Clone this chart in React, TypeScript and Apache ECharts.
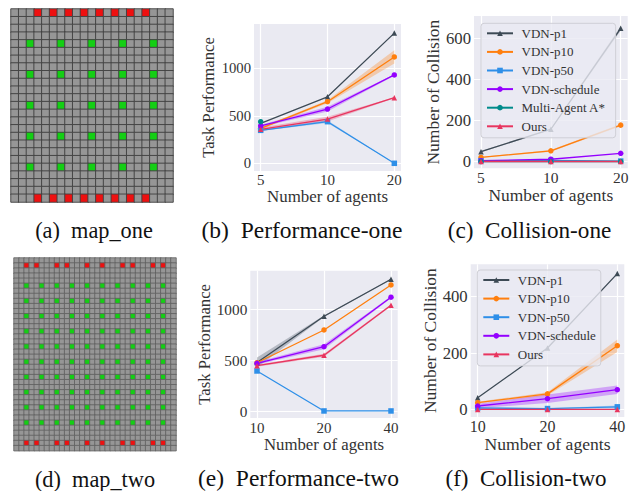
import React, { useEffect, useRef } from "react";
import * as echarts from "echarts";

const FONT = "Liberation Serif";
const BG = "#eaeaf2";
const TEXT = "#333333";

// x positions (equal spacing) and tick labels
const xPositions = [0, 1, 2];
const xLabelsOne = ["5", "10", "20"];
const xLabelsTwo = ["10", "20", "40"];

// Series colours
const colorP1 = "#3d4a55";
const colorP10 = "#ff7f0e";
const colorP50 = "#2e8fe8";
const colorSched = "#9400ff";
const colorAStar = "#008b8b";
const colorOurs = "#e8355f";

// Performance-one
const perfOneP1 = [420, 700, 1370];
const perfOneP10 = [368, 648, 1119];
const perfOneP50 = [347, 438, 0];
const perfOneSched = [393, 571, 930];
const perfOneAStar = [438, null, null];
const perfOneOurs = [358, 466, 690];
const perfOneP10Band = [12, 15, 70];
const perfOneSchedBand = [12, 25, 8];
const perfOneOursBand = [18, 25, 5];
const perfOneP50Band = [8, 14, 0];
const perfOneTicks = [0, 500, 1000];

// Collision-one
const collOneP1 = [49, 158, 649];
const collOneP10 = [21, 53, 178];
const collOneP50 = [5, 6, 3];
const collOneSched = [5, 12, 41];
const collOneAStar = [1, 1, 1];
const collOneOurs = [1, 1, 1];
const collOneP1Band = [3, 4, 10];
const collOneP10Band = [2, 4, 6];
const collOneTicks = [0, 200, 400, 600];

// Performance-two
const perfTwoP1 = [478, 931, 1294];
const perfTwoP10 = [476, 797, 1238];
const perfTwoP50 = [395, 3, 3];
const perfTwoSched = [470, 633, 1118];
const perfTwoOurs = [447, 549, 1039];
const perfTwoP1Band = [50, 8, 5];
const perfTwoSchedBand = [12, 24, 10];
const perfTwoOursBand = [10, 14, 10];
const perfTwoTicks = [0, 500, 1000];

// Collision-two
const collTwoP1 = [41, 218, 482];
const collTwoP10 = [24, 55, 226];
const collTwoP50 = [5, 3, 9];
const collTwoSched = [12, 38, 70];
const collTwoOurs = [0, 0, 0];
const collTwoP10Band = [3, 6, 22];
const collTwoSchedBand = [8, 15, 15];
const collTwoP50Band = [1, 1, 5];
const collTwoTicks = [0, 200, 400];

// Maps
const mapOneCols = 21;
const mapOneRows = 25;
const mapOneRedCols = [3, 5, 7, 9, 11, 13, 15, 17];
const mapOneRedRows = [0, 24];
const mapOneGreenCols = [2, 6, 10, 14, 18];
const mapOneGreenRows = [4, 8, 12, 16, 20];

const mapTwoCols = 32;
const mapTwoRows = 38;
const mapTwoRedCols = [2, 4, 8, 10, 14, 17, 21, 23, 27, 29];
const mapTwoRedRows = [1, 36];
const mapTwoGreenCols = [2, 5, 8, 11, 14, 17, 20, 23, 26, 29];
const mapTwoGreenRows = [5, 8, 11, 14, 17, 20, 23, 26, 29, 32];

const captions = [
  { text: "(a)  map_one", x: 94, y: 230, size: 22.3 },
  { text: "(b)  Performance-one", x: 302, y: 230, size: 23.5 },
  { text: "(c)  Collision-one", x: 529.5, y: 230, size: 23.2 },
  { text: "(d)  map_two", x: 95, y: 479, size: 22.3 },
  { text: "(e)  Performance-two", x: 298.5, y: 478, size: 23.5 },
  { text: "(f)  Collision-two", x: 526, y: 478, size: 23 },
];

const rangeOf = (n: number) => Array.from({ length: n }, (_, i) => i);

function mapCells(cols: number, rows: number, rc: number[], rr: number[], gc: number[], gr: number[]) {
  const out: number[][] = [];
  for (let r = 0; r < rows; r++) {
    for (let c = 0; c < cols; c++) {
      let v = 0;
      if (rr.includes(r) && rc.includes(c)) v = 2;
      if (gr.includes(r) && gc.includes(c)) v = 1;
      out.push([c, r, v]);
    }
  }
  return out;
}

function lineSeries(gi: number, name: string, vals: (number | null)[], color: string, symbol: string, size: number, width = 1.3) {
  return {
    type: "line",
    name,
    xAxisIndex: gi,
    yAxisIndex: gi,
    data: vals.map((v, i) => [xPositions[i], v]),
    symbol,
    symbolSize: size,
    showSymbol: true,
    showAllSymbol: true,
    connectNulls: false,
    lineStyle: { color, width },
    itemStyle: { color },
    z: 5,
    silent: true,
  };
}

function bandSeries(gi: number, vals: number[], half: number[], color: string, opacity = 0.3) {
  const lo = vals.map((v, i) => v - half[i]);
  const hi = vals.map((v, i) => v + half[i]);
  return {
    type: "custom",
    xAxisIndex: gi,
    yAxisIndex: gi,
    silent: true,
    z: 3,
    data: vals.map((_, i) => [xPositions[i], lo[i], hi[i]]),
    encode: { x: 0, y: [1, 2] },
    renderItem: (params: any, api: any) => {
      if (params.dataIndex !== 0) return null;
      const up = xPositions.map((x, i) => api.coord([x, hi[i]]));
      const dn = xPositions.map((x, i) => api.coord([x, lo[i]])).reverse();
      return { type: "polygon", shape: { points: [...up, ...dn] }, style: { fill: color, opacity } };
    },
  };
}

function buildOption() {
  const plots = [
    { left: 254, top: 24, width: 147, height: 147, min: -81, max: 1466, ticks: perfOneTicks, xl: xLabelsOne, yName: "Task Performance", yFont: 14.7, xFont: 15, xNameSize: 16.9, yNameSize: 16.7, gapX: 17, gapY: 37, xMargin: 1.5 },
    { left: 474, top: 16, width: 153.7, height: 152.3, min: -32, max: 709, ticks: collOneTicks, xl: xLabelsOne, yName: "Number of Collision", yFont: 16.7, xFont: 15.5, xNameSize: 17.4, yNameSize: 17.5, gapX: 17, gapY: 28, xMargin: 1 },
    { left: 250.3, top: 270.7, width: 147.4, height: 147.3, min: -66, max: 1378, ticks: perfTwoTicks, xl: xLabelsTwo, yName: "Task Performance", yFont: 15.3, xFont: 15, xNameSize: 16.8, yNameSize: 16.7, gapX: 16, gapY: 31, xMargin: 2 },
    { left: 470.7, top: 264.3, width: 153.6, height: 152.7, min: -27, max: 515, ticks: collTwoTicks, xl: xLabelsTwo, yName: "Number of Collision", yFont: 16.7, xFont: 16, xNameSize: 17.6, yNameSize: 17.5, gapX: 17, gapY: 29.5, xMargin: 1 },
  ];

  const grids: any[] = [
    { left: 11, top: 9, width: 162, height: 193 },
    { left: 14, top: 258, width: 162, height: 192.7 },
    ...plots.map((p) => ({ left: p.left, top: p.top, width: p.width, height: p.height, show: true, backgroundColor: BG, borderWidth: 0 })),
  ];

  const xAxes: any[] = [
    { gridIndex: 0, type: "category", data: rangeOf(mapOneCols), show: false },
    { gridIndex: 1, type: "category", data: rangeOf(mapTwoCols), show: false },
    ...plots.map((p, i) => ({
      gridIndex: i + 2,
      type: "value",
      min: -0.1,
      max: 2.1,
      name: "Number of agents",
      nameLocation: "middle",
      nameGap: p.gapX,
      nameTextStyle: { fontFamily: FONT, fontSize: p.xNameSize, color: TEXT },
      axisLine: { show: false },
      axisTick: { show: false, customValues: xPositions },
      axisLabel: {
        customValues: xPositions,
        fontFamily: FONT,
        fontSize: p.xFont,
        color: TEXT,
        margin: p.xMargin,
        formatter: (v: number) => p.xl[Math.round(v)],
      },
      splitLine: { show: true, lineStyle: { color: "#ffffff", width: 1.2 } },
    })),
  ];

  const yAxes: any[] = [
    { gridIndex: 0, type: "category", data: rangeOf(mapOneRows), inverse: true, show: false },
    { gridIndex: 1, type: "category", data: rangeOf(mapTwoRows), inverse: true, show: false },
    ...plots.map((p, i) => ({
      gridIndex: i + 2,
      type: "value",
      min: p.min,
      max: p.max,
      name: p.yName,
      nameLocation: "middle",
      nameGap: p.gapY,
      nameTextStyle: { fontFamily: FONT, fontSize: p.yNameSize, color: TEXT },
      axisLine: { show: false },
      axisTick: { show: false, customValues: p.ticks },
      axisLabel: { customValues: p.ticks, fontFamily: FONT, fontSize: p.yFont, color: TEXT, margin: 3, formatter: (v: number) => String(v) },
      splitLine: { show: true, lineStyle: { color: "#ffffff", width: 1.2 } },
    })),
  ];

  const series: any[] = [
    {
      type: "heatmap",
      xAxisIndex: 0,
      yAxisIndex: 0,
      silent: true,
      data: mapCells(mapOneCols, mapOneRows, mapOneRedCols, mapOneRedRows, mapOneGreenCols, mapOneGreenRows),
      itemStyle: { borderColor: "#3f3f3f", borderWidth: 0.9 },
    },
    {
      type: "heatmap",
      xAxisIndex: 1,
      yAxisIndex: 1,
      silent: true,
      data: mapCells(mapTwoCols, mapTwoRows, mapTwoRedCols, mapTwoRedRows, mapTwoGreenCols, mapTwoGreenRows),
      itemStyle: { borderColor: "#606060", borderWidth: 0.8 },
    },
    // Performance-one
    bandSeries(2, perfOneP10, perfOneP10Band, colorP10),
    bandSeries(2, perfOneSched, perfOneSchedBand, colorSched),
    bandSeries(2, perfOneOurs, perfOneOursBand, colorOurs),
    bandSeries(2, perfOneP50, perfOneP50Band, colorP50),
    lineSeries(2, "VDN-p1", perfOneP1, colorP1, "triangle", 5.5),
    lineSeries(2, "VDN-p10", perfOneP10, colorP10, "circle", 5.5),
    lineSeries(2, "VDN-p50", perfOneP50, colorP50, "rect", 5.5),
    lineSeries(2, "VDN-schedule", perfOneSched, colorSched, "circle", 5.5),
    lineSeries(2, "Multi-Agent A*", perfOneAStar, colorAStar, "circle", 5.5),
    lineSeries(2, "Ours", perfOneOurs, colorOurs, "triangle", 5.5),
    // Collision-one
    bandSeries(3, collOneP1, collOneP1Band, colorP1),
    bandSeries(3, collOneP10, collOneP10Band, colorP10),
    lineSeries(3, "VDN-p1", collOneP1, colorP1, "triangle", 5.5),
    lineSeries(3, "VDN-p10", collOneP10, colorP10, "circle", 5.5),
    lineSeries(3, "VDN-p50", collOneP50, colorP50, "rect", 5.5),
    lineSeries(3, "VDN-schedule", collOneSched, colorSched, "circle", 5.5),
    lineSeries(3, "Multi-Agent A*", collOneAStar, colorAStar, "circle", 5.5),
    lineSeries(3, "Ours", collOneOurs, colorOurs, "triangle", 5.5),
    // Performance-two
    bandSeries(4, perfTwoP1, perfTwoP1Band, colorP1),
    bandSeries(4, perfTwoSched, perfTwoSchedBand, colorSched),
    bandSeries(4, perfTwoOurs, perfTwoOursBand, colorOurs),
    lineSeries(4, "VDN-p1", perfTwoP1, colorP1, "triangle", 5.5),
    lineSeries(4, "VDN-p10", perfTwoP10, colorP10, "circle", 5.5),
    lineSeries(4, "VDN-p50", perfTwoP50, colorP50, "rect", 5.5),
    lineSeries(4, "VDN-schedule", perfTwoSched, colorSched, "circle", 5.5),
    lineSeries(4, "Ours", perfTwoOurs, colorOurs, "triangle", 5.5),
    // Collision-two
    bandSeries(5, collTwoP10, collTwoP10Band, colorP10),
    bandSeries(5, collTwoSched, collTwoSchedBand, colorSched),
    bandSeries(5, collTwoP50, collTwoP50Band, colorP50),
    lineSeries(5, "VDN-p1", collTwoP1, colorP1, "triangle", 5.5),
    lineSeries(5, "VDN-p10", collTwoP10, colorP10, "circle", 5.5),
    lineSeries(5, "VDN-p50", collTwoP50, colorP50, "rect", 5.5),
    lineSeries(5, "VDN-schedule", collTwoSched, colorSched, "circle", 5.5),
    lineSeries(5, "Ours", collTwoOurs, colorOurs, "triangle", 5.5),
  ];

  const legendBase = {
    orient: "vertical",
    itemWidth: 26,
    itemHeight: 7,
    itemGap: 5.6,
    align: "left",
    backgroundColor: "rgba(234,234,242,0.8)",
    borderColor: "#cfcfd6",
    borderWidth: 1,
    borderRadius: 3,
    selectedMode: false,
    textStyle: { fontFamily: FONT, fontSize: 13, color: TEXT, padding: [0, 0, 0, 3.5] },
    z: 10,
  };

  return {
    animation: false,
    backgroundColor: "#ffffff",
    grid: grids,
    xAxis: xAxes,
    yAxis: yAxes,
    visualMap: {
      type: "piecewise",
      show: false,
      seriesIndex: [0, 1],
      dimension: 2,
      pieces: [
        { value: 0, color: "#969696" },
        { value: 1, color: "#14cf14" },
        { value: 2, color: "#ee1010" },
      ],
    },
    legend: [
      { ...legendBase, left: 481, top: 23.3, padding: [3.5, 10, 5, 5], data: ["VDN-p1", "VDN-p10", "VDN-p50", "VDN-schedule", "Multi-Agent A*", "Ours"] },
      { ...legendBase, left: 477.3, top: 270, padding: [3.5, 5, 5, 5], data: ["VDN-p1", "VDN-p10", "VDN-p50", "VDN-schedule", "Ours"] },
    ],
    series,
    graphic: captions.map((c) => ({
      type: "text",
      x: c.x,
      y: c.y,
      style: { text: c.text, fontFamily: FONT, fontSize: c.size, fill: "#111111", textAlign: "center", textVerticalAlign: "middle" },
      z: 20,
    })),
  };
}

export default function App() {
  const ref = useRef<HTMLDivElement>(null);
  useEffect(() => {
    document.body.style.margin = "0";
    const chart = echarts.init(ref.current!, undefined, { renderer: "svg" });
    chart.setOption(buildOption() as any);
    return () => chart.dispose();
  }, []);
  return <div ref={ref} style={{ width: 641, height: 491 }} />;
}
